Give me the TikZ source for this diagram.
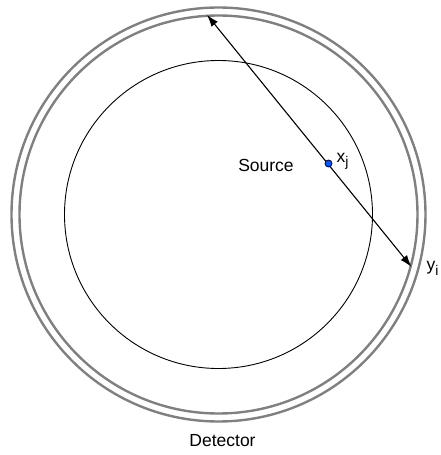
\documentclass[tikz,border=0pt]{standalone}
\usepackage{fontspec}
\setmainfont{Liberation Sans}
\usepackage{tikz}
\usetikzlibrary{positioning,arrows.meta,calc}

\newcommand{\lblsub}[1]{\raisebox{-4.5pt}{\fontsize{14}{14}\selectfont #1}}

\begin{document}
\begin{tikzpicture}[
    x=1pt, y=1pt,
    ring/.style={draw=#1, line width=2.4pt},
    ring/.default={black!50},
    srcring/.style={draw=black, line width=0.9pt},
    arr/.style={{Latex[length=12pt,width=8pt]}-{Latex[length=12pt,width=8pt]}, line width=1.1pt, #1},
    arr/.default={black},
    lbl/.style={font=\fontsize{17.5}{20}\selectfont, inner sep=0pt, #1},
    lbl/.default={black},
    srcdot/.style={circle, draw=blue!25!black, fill=blue!65!cyan, line width=0.8pt, minimum size=7pt, inner sep=0pt},
]
\useasboundingbox (-218.5,-240.5) rectangle (221.5,214.5);

% ===== DETECTOR AND SOURCE REGION =====
\coordinate (center) at (0,0);
\draw[ring] (center) circle (207);
\draw[ring] (center) circle (199);
\draw[srcring] (center) circle (154);

% ===== ARROW =====
\coordinate (ytop) at (93.3:200);
\coordinate (ybot) at (-15.2:200);
\draw[arr] (ytop) -- (ybot);
\node[srcdot] (xj) at (110,51) {};

% ===== LABELS =====
\node[lbl] (srclbl) at (47.5,49.5) {Source};
\node[lbl, anchor=west] (xjlbl) at (118,53) {x\lblsub{j}};
\node[lbl, anchor=west] (yilbl) at (208,-54) {y\lblsub{i}};
\node[lbl] (detlbl) at (4,-226.5) {Detector};

\end{tikzpicture}
\end{document}
